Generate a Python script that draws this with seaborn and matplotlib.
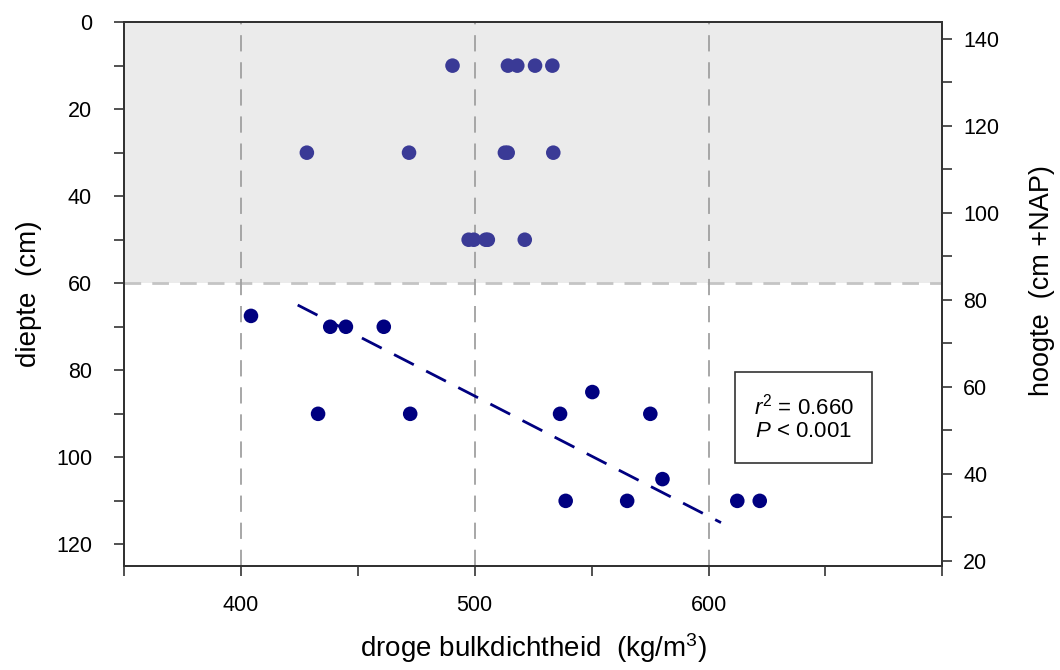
import numpy as np
import pandas as pd
import seaborn as sns
import matplotlib.pyplot as plt
from matplotlib.patches import Rectangle
from matplotlib.ticker import MultipleLocator

# upper layer (0-60 cm, shaded)
top_density = [490.5, 514.2, 518.2, 525.8, 533.2,
               428.2, 471.9, 512.9, 514.1, 533.6,
               497.4, 499.6, 504.7, 505.6, 521.4]
top_depth = [10, 10, 10, 10, 10,
             30, 30, 30, 30, 30,
             50, 50, 50, 50, 50]

# lower layer (>60 cm)
bot_density = [404.3, 438.2, 444.9, 461.1, 433.0, 472.4, 536.5,
               550.3, 575.1, 580.3, 538.9, 565.2, 612.3, 621.9]
bot_depth = [67.5, 70, 70, 70, 90, 90, 90,
             85, 90, 105, 110, 110, 110, 110]

fit_depth_range = [65, 115]
surface_height = 143.8  # cm +NAP at depth 0
r2_text = "$r^2$ = 0.660"
p_text = "$P$ < 0.001"

sns.set_style("ticks")
plt.rcParams['font.family'] = ['Liberation Sans', 'DejaVu Sans']
plt.rcParams['mathtext.fontset'] = 'custom'
plt.rcParams['mathtext.rm'] = 'Liberation Sans'
plt.rcParams['mathtext.it'] = 'Liberation Sans:italic'
plt.rcParams['text.color'] = 'black'
plt.rcParams['axes.labelcolor'] = 'black'
plt.rcParams['xtick.color'] = 'black'
plt.rcParams['ytick.color'] = 'black'

fig = plt.figure(figsize=(10.6, 6.7), dpi=100)
ax = fig.add_axes([0.117, 0.155, 0.772, 0.812])

ax.axhspan(0, 60, color='#ebebeb', zorder=0, lw=0)
ax.axhline(60, color='#c4c4c4', lw=2, ls=(0, (6, 4)), zorder=1)
for gx in [400, 500, 600]:
    ax.axvline(gx, color='#a0a0a0', lw=1.3, ls=(0, (9, 6)), zorder=1)

df_top = pd.DataFrame({'x': top_density, 'y': top_depth})
df_bot = pd.DataFrame({'x': bot_density, 'y': bot_depth})
sns.scatterplot(data=df_top, x='x', y='y', ax=ax, color='#3a3a96', s=110,
                edgecolor='none', zorder=3)
sns.scatterplot(data=df_bot, x='x', y='y', ax=ax, color='#000080', s=110,
                edgecolor='none', zorder=3)

# density regressed on depth
slope, icpt = np.polyfit(bot_depth, bot_density, 1)
fy = np.array(fit_depth_range)
ax.plot(slope * fy + icpt, fy, color='#000080', lw=2, ls=(0, (8, 5)), zorder=2)

ax.set_xlim(350, 700)
ax.set_ylim(125, 0)
ax.xaxis.set_major_locator(MultipleLocator(100))
ax.xaxis.set_minor_locator(MultipleLocator(50))
ax.yaxis.set_major_locator(MultipleLocator(20))
ax.yaxis.set_minor_locator(MultipleLocator(10))
ax.set_xticks([400, 500, 600])
ax.tick_params(which='both', direction='out', length=7, width=1.2,
               color='#333333', labelsize=15.5)
ax.tick_params(axis='y', pad=16)
ax.tick_params(axis='x', pad=14)

for s in ax.spines.values():
    s.set_visible(True)
    s.set_color('#333333')
    s.set_linewidth(1.4)

ax.set_xlabel("droge bulkdichtheid  (kg/m$^3$)", fontsize=20, labelpad=11)
ax.set_ylabel("diepte  (cm)", fontsize=20, labelpad=10)

ax2 = ax.twinx()
ax2.set_ylim(surface_height - 125, surface_height)
ax2.yaxis.set_major_locator(MultipleLocator(20))
ax2.yaxis.set_minor_locator(MultipleLocator(10))
ax2.tick_params(which='both', direction='out', length=7, width=1.2,
                color='#333333', labelsize=15.5, pad=8)
for s in ax2.spines.values():
    s.set_color('#333333')
    s.set_linewidth(1.4)
ax2.set_ylabel("hoogte  (cm +NAP)", fontsize=19.5)
ax2.yaxis.set_label_coords(1.106, 0.525)

ax.add_patch(Rectangle((0.747, 0.189), 0.1675, 0.167, transform=ax.transAxes,
                       fill=False, edgecolor='#333333', lw=1.2, zorder=4))
ax.text(0.8305, 0.2725, r2_text + "\n" + p_text, transform=ax.transAxes,
        ha='center', va='center', fontsize=16, linespacing=1.05, zorder=5)

fig.savefig("out.png", dpi=100)
